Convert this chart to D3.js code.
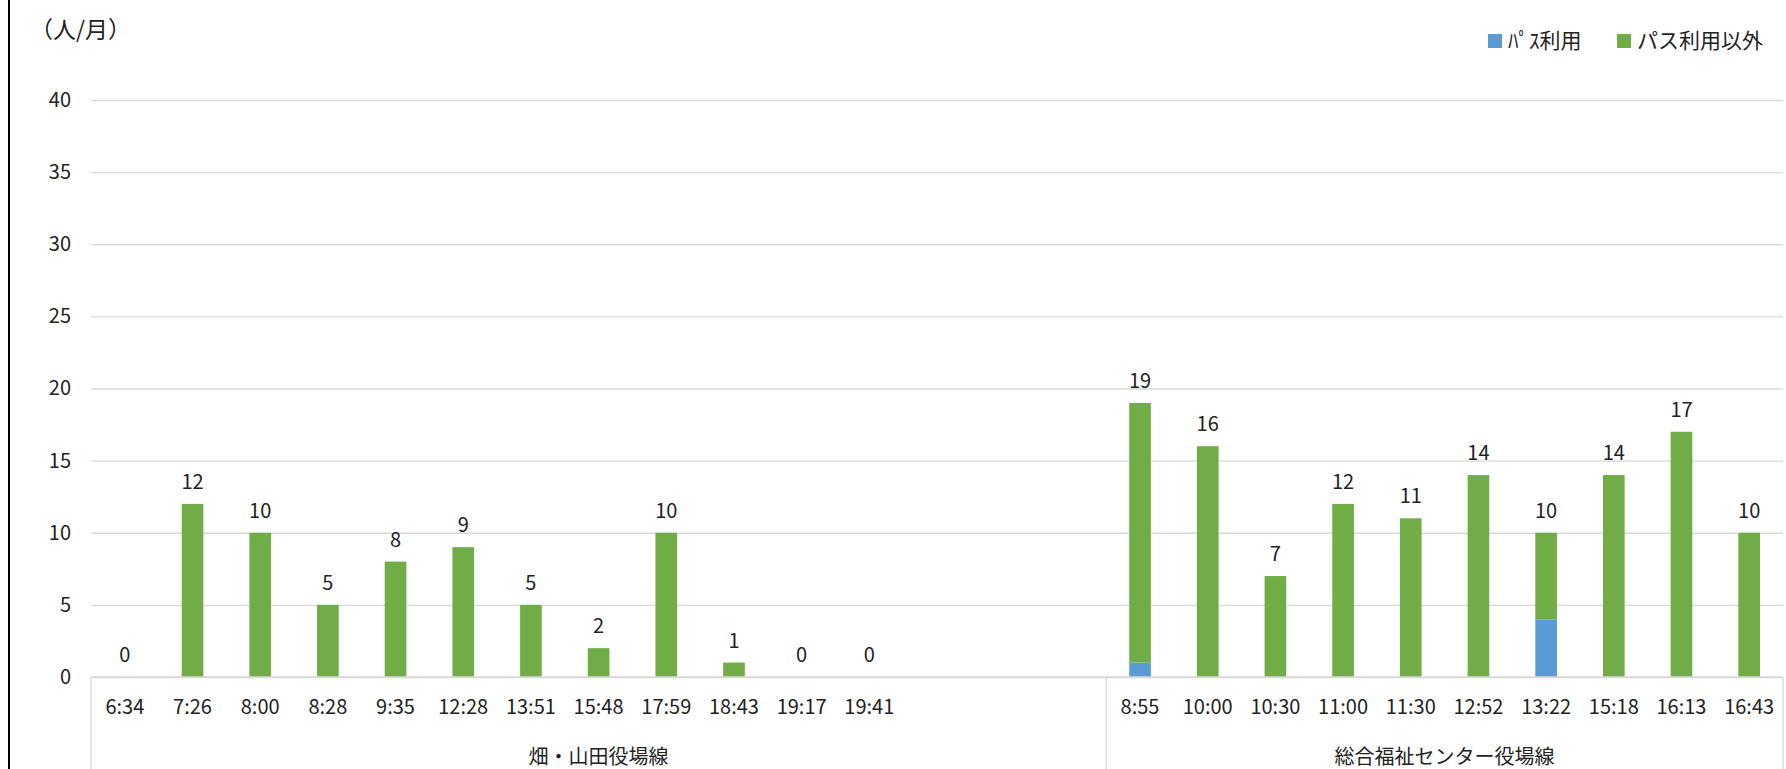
<!DOCTYPE html><html><head><meta charset="utf-8"><script src="https://cdn.jsdelivr.net/npm/d3@7"></script>
<style>body{margin:0;background:#fff}text{font-family:"Noto Sans CJK JP",sans-serif;fill:#222}</style></head><body><svg id="c" width="1786" height="769"></svg>
<script>
const groups=["畑・山田役場線","総合福祉センター役場線"];
const cats1=["6:34","7:26","8:00","8:28","9:35","12:28","13:51","15:48","17:59","18:43","19:17","19:41"];
const pass1=[0,0,0,0,0,0,0,0,0,0,0,0];
const other1=[0,12,10,5,8,9,5,2,10,1,0,0];
const cats2=["8:55","10:00","10:30","11:00","11:30","12:52","13:22","15:18","16:13","16:43"];
const pass2=[1,0,0,0,0,0,4,0,0,0];
const other2=[18,16,7,12,11,14,6,14,17,10];
const yTicks=[0,5,10,15,20,25,30,35,40];
const seriesNames=["ﾊﾟｽ利用","パス利用以外"];
const colors=["#5b9bd5","#70ad47"];

const svg=d3.select("#c");
const L=91,R=1783,T=100,B=677;
const rows=[];
cats1.forEach((c,i)=>rows.push({k:"a"+i,c,p:pass1[i],o:other1[i]}));
["g1","g2","g3"].forEach(k=>rows.push({k,c:"",blank:true}));
cats2.forEach((c,i)=>rows.push({k:"b"+i,c,p:pass2[i],o:other2[i]}));
const x=d3.scaleBand().domain(rows.map(r=>r.k)).range([L,R]).paddingInner(0.68).paddingOuter(0.34);
const y=d3.scaleLinear().domain([0,40]).range([B,T]);
svg.append("line").attr("x1",9).attr("x2",9).attr("y1",0).attr("y2",769).attr("stroke","#000").attr("stroke-width",2);
const ya=svg.append("g").attr("transform",`translate(${L},0)`).call(d3.axisLeft(y).tickValues(yTicks).tickSize(-(R-L)).tickPadding(20));
ya.select(".domain").remove();
ya.selectAll("line").attr("stroke","#d9d9d9").attr("stroke-width",1.3);
ya.selectAll("text").attr("font-size",20).attr("fill","#222").attr("font-family","Noto Sans CJK JP");
svg.append("text").attr("x",30).attr("y",38).attr("font-size",23).text("（人/月）");
const data=rows.filter(r=>!r.blank);
svg.selectAll(".p").data(data).join("rect").attr("x",d=>x(d.k)).attr("width",x.bandwidth()).attr("y",d=>y(d.p)).attr("height",d=>y(0)-y(d.p)).attr("fill",colors[0]);
svg.selectAll(".o").data(data).join("rect").attr("x",d=>x(d.k)).attr("width",x.bandwidth()).attr("y",d=>y(d.p+d.o)).attr("height",d=>y(d.p)-y(d.p+d.o)).attr("fill",colors[1]);
svg.selectAll(".lab").data(data).join("text").attr("x",d=>x(d.k)+x.bandwidth()/2).attr("y",d=>y(d.p+d.o)-15).attr("text-anchor","middle").attr("font-size",20).text(d=>d.p+d.o);
svg.selectAll(".cl").data(data).join("text").attr("x",d=>x(d.k)+x.bandwidth()/2).attr("y",714).attr("text-anchor","middle").attr("font-size",20).text(d=>d.c);
const step=x.step();
const sep=x("b0")-x.paddingInner()*step/2;
[L,sep,R].forEach(v=>svg.append("line").attr("x1",v).attr("x2",v).attr("y1",B).attr("y2",769).attr("stroke","#d9d9d9").attr("stroke-width",1.3));
svg.append("line").attr("x1",L).attr("x2",R).attr("y1",B).attr("y2",B).attr("stroke","#d9d9d9").attr("stroke-width",1.3);
svg.append("text").attr("x",(L+sep)/2).attr("y",764).attr("text-anchor","middle").attr("font-size",20).text(groups[0]);
svg.append("text").attr("x",(sep+R)/2).attr("y",764).attr("text-anchor","middle").attr("font-size",20).text(groups[1]);
const lg=[{x:1488,n:seriesNames[0],c:colors[0]},{x:1617,n:seriesNames[1],c:colors[1]}];
lg.forEach(l=>{svg.append("rect").attr("x",l.x).attr("y",34).attr("width",14).attr("height",14).attr("fill",l.c);
svg.append("text").attr("x",l.x+20).attr("y",48).attr("font-size",21).text(l.n);});
</script></body></html>
